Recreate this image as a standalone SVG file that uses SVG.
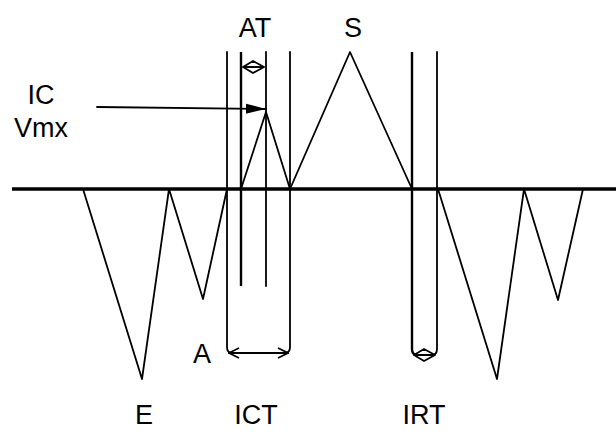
<svg xmlns="http://www.w3.org/2000/svg" width="616" height="435" viewBox="0 0 616 435">
<defs>
<style>
.ln{fill:none;stroke:#000;stroke-width:1.8;stroke-linejoin:round;stroke-linecap:round}
.th{fill:none;stroke:#000;stroke-width:2.4}
.base{fill:none;stroke:#000;stroke-width:3.4}
.lbl{font-family:"Liberation Sans",Arial,sans-serif;font-size:27px;fill:#000}
</style>
<marker id="open" viewBox="0 0 12 12" refX="11" refY="6" markerWidth="12" markerHeight="12" markerUnits="userSpaceOnUse" orient="auto-start-reverse">
<path d="M1,1 L11,6 L1,11" fill="none" stroke="#000" stroke-width="1.8"/>
</marker>
<marker id="fill" viewBox="0 0 20 12" refX="20" refY="6" markerWidth="20" markerHeight="12" markerUnits="userSpaceOnUse" orient="auto">
<path d="M0,1 L20,6 L0,11 Z" fill="#000"/>
</marker>
</defs>
<rect width="616" height="435" fill="#fff"/>
<g id="connectors">
<line class="base" x1="12" y1="189" x2="616" y2="189"/>
<polyline id="wave" class="ln" points="83,189 142,379 169,189 203,299 227,189"/>
<polyline class="ln" points="241,189 266,112 290,189 350,52 412,189"/>
<polyline class="ln" points="438,189 497,379 524,189 558,300 583,189"/>
<path class="ln" d="M227,52 V347 Q227,353 232,353"/>
<path class="ln" d="M290,52 V347 Q290,353 285,353"/>
<line class="th" x1="241" y1="52" x2="241" y2="286"/>
<line class="ln" x1="266" y1="52" x2="266" y2="286"/>
<line class="ln" x1="229" y1="353" x2="288" y2="353" marker-start="url(#open)" marker-end="url(#open)"/>
<path class="th" d="M412,52 V349 Q412,355 417,355"/>
<path class="ln" d="M437,52 V349 Q437,355 432,355"/>
<path class="ln" d="M414,355 L424,349 L435,355 L424,361 Z M414,355 H435"/>
<path class="ln" d="M243,67 L253,61 L264,67 L253,73 Z M243,67 H264"/>
<line class="ln" x1="97" y1="107" x2="266" y2="109" marker-end="url(#fill)"/>
</g>
<g id="labels">
<text class="lbl" x="255" y="37" text-anchor="middle">AT</text>
<text class="lbl" x="353" y="37" text-anchor="middle">S</text>
<text class="lbl" x="41" y="104" text-anchor="middle">IC</text>
<text class="lbl" x="41" y="137" text-anchor="middle">Vmx</text>
<text class="lbl" x="202" y="363" text-anchor="middle">A</text>
<text class="lbl" x="144" y="424" text-anchor="middle">E</text>
<text class="lbl" x="256" y="424" text-anchor="middle">ICT</text>
<text class="lbl" x="424" y="424" text-anchor="middle">IRT</text>
</g>
</svg>
